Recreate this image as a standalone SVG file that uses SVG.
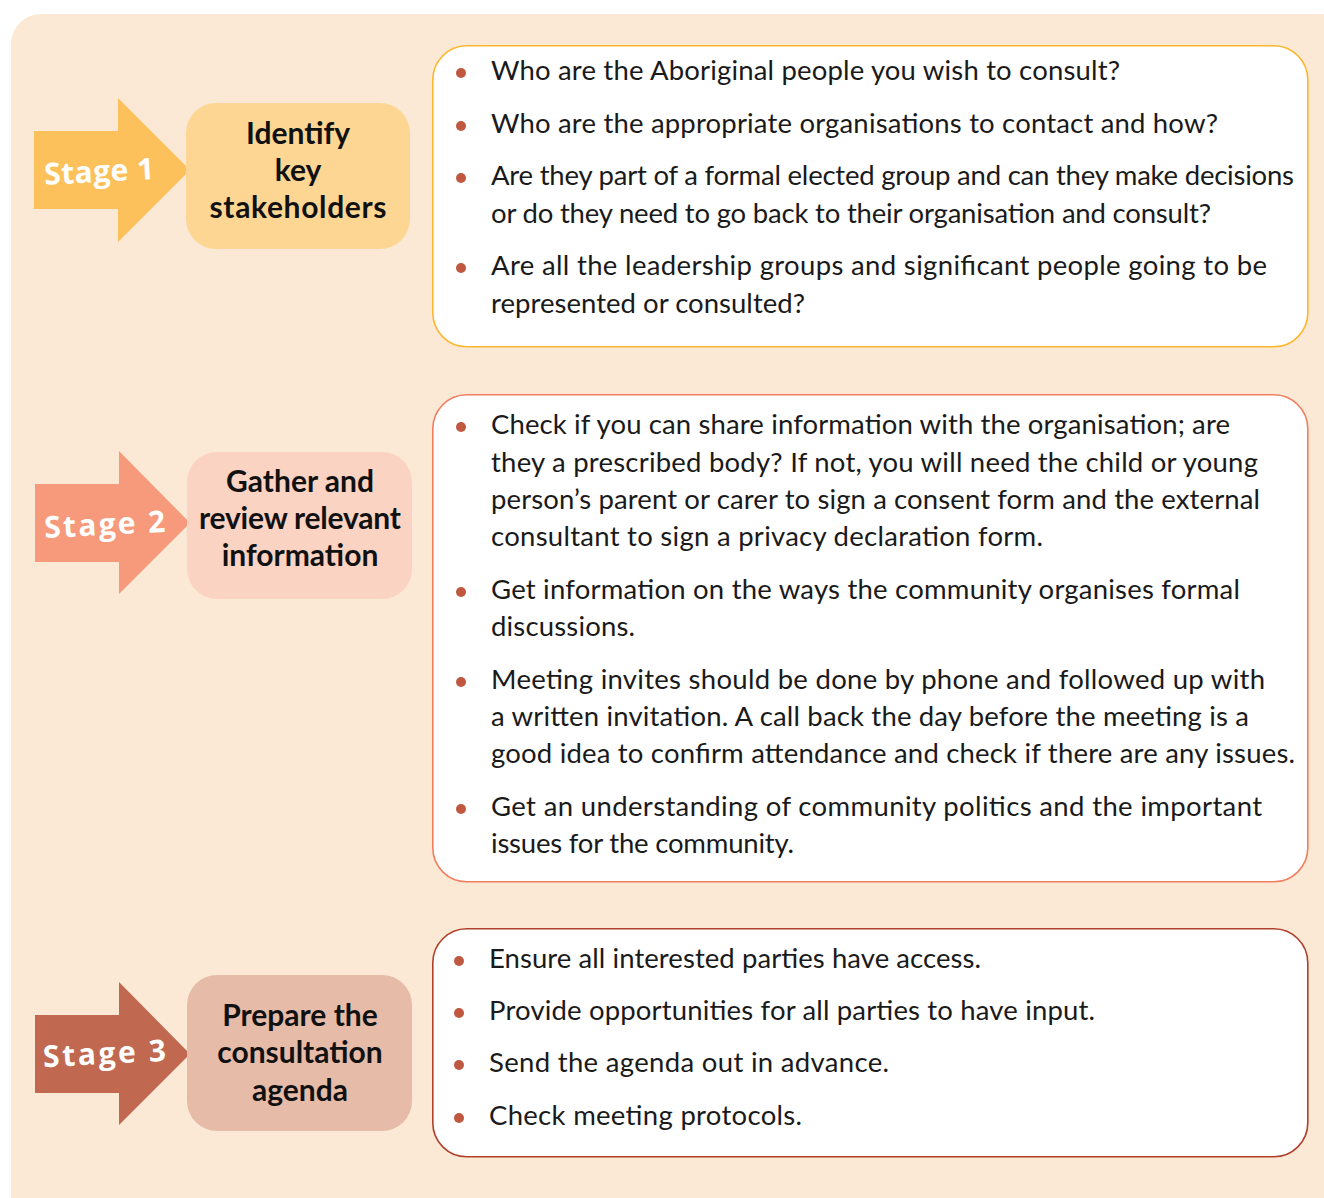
<svg xmlns="http://www.w3.org/2000/svg" width="1324" height="1198" viewBox="0 0 1324 1198">
<style>
.body{font-family:Lato,"Open Sans","Liberation Sans",sans-serif;font-size:27.5px;fill:#1a1a1a}
.title{font-family:Lato,"Open Sans","Liberation Sans",sans-serif;font-size:30px;font-weight:bold;fill:#111;text-anchor:middle}
.stage{font-family:"Open Sans","DejaVu Sans",sans-serif;font-size:30px;font-weight:bold;fill:#fff}
.dot{fill:#C0573F}
.card{fill:#fff;stroke-width:1.6}
</style>
<rect x="11" y="14" width="1340" height="1220" rx="30" fill="#FCE9D5"/>

<g id="stage1">
  <polygon points="34,131 118,131 118,98 190,170 118,242 118,209 34,209" fill="#FDC15B"/>
  <text class="stage" x="44" y="182" textLength="110" transform="rotate(-3 98 170)">Stage 1</text>
</g>
<g id="node1">
  <rect x="186" y="103" width="224" height="146" rx="30" fill="#FED693"/>
  <text class="title" x="298" y="144">Identify</text>
  <text class="title" x="298" y="181">key</text>
  <text class="title" x="298" y="218" textLength="177">stakeholders</text>
</g>
<g id="card1">
  <rect class="card" x="432.8" y="45.8" width="875" height="301" rx="34" stroke="#FBB72E"/>
  <circle class="dot" cx="461" cy="73" r="5"/>
  <circle class="dot" cx="461" cy="126" r="5"/>
  <circle class="dot" cx="461" cy="178" r="5"/>
  <circle class="dot" cx="461" cy="268" r="5"/>
  <text class="body" x="491" y="80" textLength="629">Who are the Aboriginal people you wish to consult?</text>
  <text class="body" x="491" y="133" textLength="727">Who are the appropriate organisations to contact and how?</text>
  <text class="body" x="491" y="185" textLength="803">Are they part of a formal elected group and can they make decisions</text>
  <text class="body" x="491" y="223" textLength="720">or do they need to go back to their organisation and consult?</text>
  <text class="body" x="491" y="275" textLength="776">Are all the leadership groups and significant people going to be</text>
  <text class="body" x="491" y="313" textLength="314">represented or consulted?</text>
</g>

<g id="stage2">
  <polygon points="35,484 119,484 119,451 190,523 119,594 119,562 35,562" fill="#F69A7B"/>
  <text class="stage" x="44" y="535" textLength="121" transform="rotate(-3 104 523)">Stage 2</text>
</g>
<g id="node2">
  <rect x="187" y="452" width="225" height="147" rx="30" fill="#FBD3C2"/>
  <text class="title" x="300" y="492">Gather and</text>
  <text class="title" x="300" y="529" textLength="202">review relevant</text>
  <text class="title" x="300" y="566">information</text>
</g>
<g id="card2">
  <rect class="card" x="432.8" y="394.8" width="875" height="487" rx="34" stroke="#F07E5F"/>
  <circle class="dot" cx="461" cy="427" r="5"/>
  <circle class="dot" cx="461" cy="592" r="5"/>
  <circle class="dot" cx="461" cy="682" r="5"/>
  <circle class="dot" cx="461" cy="809" r="5"/>
  <text class="body" x="491" y="434" textLength="739">Check if you can share information with the organisation; are</text>
  <text class="body" x="491" y="472" textLength="767">they a prescribed body? If not, you will need the child or young</text>
  <text class="body" x="491" y="509" textLength="769">person’s parent or carer to sign a consent form and the external</text>
  <text class="body" x="491" y="546" textLength="552">consultant to sign a privacy declaration form.</text>
  <text class="body" x="491" y="599" textLength="749">Get information on the ways the community organises formal</text>
  <text class="body" x="491" y="636" textLength="144">discussions.</text>
  <text class="body" x="491" y="689" textLength="774">Meeting invites should be done by phone and followed up with</text>
  <text class="body" x="491" y="726" textLength="758">a written invitation. A call back the day before the meeting is a</text>
  <text class="body" x="491" y="763" textLength="804">good idea to confirm attendance and check if there are any issues.</text>
  <text class="body" x="491" y="816" textLength="771">Get an understanding of community politics and the important</text>
  <text class="body" x="491" y="853" textLength="303">issues for the community.</text>
</g>

<g id="stage3">
  <polygon points="35,1015 119,1015 119,982 190,1054 119,1125 119,1093 35,1093" fill="#C06950"/>
  <text class="stage" x="43" y="1064" textLength="123" transform="rotate(-3 104 1054)">Stage 3</text>
</g>
<g id="node3">
  <rect x="187" y="975" width="225" height="156" rx="30" fill="#E6BBA8"/>
  <text class="title" x="300" y="1026">Prepare the</text>
  <text class="title" x="300" y="1063">consultation</text>
  <text class="title" x="300" y="1101">agenda</text>
</g>
<g id="card3">
  <rect class="card" x="432.8" y="928.8" width="875" height="228" rx="34" stroke="#B0402B"/>
  <circle class="dot" cx="459" cy="961" r="5"/>
  <circle class="dot" cx="459" cy="1013" r="5"/>
  <circle class="dot" cx="459" cy="1065" r="5"/>
  <circle class="dot" cx="459" cy="1118" r="5"/>
  <text class="body" x="489" y="968" textLength="492">Ensure all interested parties have access.</text>
  <text class="body" x="489" y="1020" textLength="606">Provide opportunities for all parties to have input.</text>
  <text class="body" x="489" y="1072" textLength="400">Send the agenda out in advance.</text>
  <text class="body" x="489" y="1125" textLength="313">Check meeting protocols.</text>
</g>
<g id="connectors"></g>
</svg>
